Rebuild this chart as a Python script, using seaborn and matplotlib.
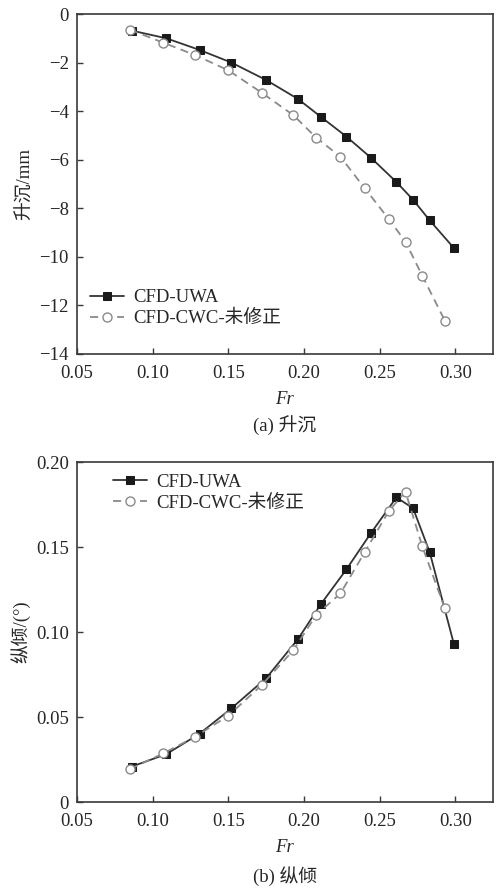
import matplotlib
matplotlib.use("Agg")
import matplotlib.pyplot as plt
import seaborn as sns
import pandas as pd
from matplotlib.ticker import FixedLocator, FuncFormatter

# Froude numbers of the computed cases
fr_uwa = [0.086, 0.109, 0.131, 0.152, 0.175, 0.196, 0.211, 0.228, 0.244, 0.261, 0.272, 0.283, 0.299]
fr_cwc = [0.085, 0.107, 0.128, 0.150, 0.172, 0.193, 0.208, 0.224, 0.240, 0.256, 0.267, 0.278, 0.293]

# Sinkage (mm)
sink_uwa = [-0.68, -1.00, -1.48, -2.00, -2.72, -3.50, -4.23, -5.05, -5.91, -6.92, -7.65, -8.50, -9.64]
sink_cwc = [-0.65, -1.18, -1.69, -2.32, -3.24, -4.17, -5.09, -5.88, -7.17, -8.45, -9.38, -10.77, -12.63]

# Trim (deg)
trim_uwa = [0.0208, 0.0282, 0.0402, 0.0551, 0.0729, 0.0959, 0.1163, 0.1369, 0.1580, 0.1792, 0.1728, 0.1469, 0.0928]
trim_cwc = [0.0194, 0.0286, 0.0384, 0.0508, 0.0688, 0.0894, 0.1100, 0.1227, 0.1469, 0.1712, 0.1825, 0.1506, 0.1139]

labels = ["CFD-UWA", "CFD-CWC-未修正"]
x_ticks = [0.05, 0.10, 0.15, 0.20, 0.25, 0.30]
sink_ticks = [0, -2, -4, -6, -8, -10, -12, -14]
trim_ticks = [0, 0.05, 0.10, 0.15, 0.20]

sns.set_style("ticks")
plt.rcParams["font.family"] = ["Liberation Serif", "Noto Sans CJK SC"]
plt.rcParams["axes.unicode_minus"] = True

FS = 13.5
SPINE = "#3a3a3a"

fig = plt.figure(figsize=(5.04, 8.88), dpi=100)
ax1 = fig.add_axes([0.1528, 0.6014, 0.8248, 0.3828])
ax2 = fig.add_axes([0.1528, 0.0968, 0.8248, 0.3829])

uwa_style = dict(color="#333333", linewidth=1.3, linestyle="-", marker="s",
                 markersize=5.5, markerfacecolor="#1a1a1a", markeredgecolor="#1a1a1a")
cwc_style = dict(color="#8a8a8a", linewidth=1.3, linestyle=(0, (4.5, 3.0)), marker="o",
                 markersize=6.5, markerfacecolor="white", markeredgecolor="#8a8a8a",
                 markeredgewidth=1.0)


def draw(ax, y_uwa, y_cwc):
    d1 = pd.DataFrame({"Fr": fr_uwa, "v": y_uwa})
    d2 = pd.DataFrame({"Fr": fr_cwc, "v": y_cwc})
    sns.lineplot(data=d1, x="Fr", y="v", ax=ax, sort=False, label=labels[0], **uwa_style)
    sns.lineplot(data=d2, x="Fr", y="v", ax=ax, sort=False, label=labels[1], **cwc_style)
    ax.set_xlim(0.05, 0.3246)
    ax.xaxis.set_major_locator(FixedLocator(x_ticks))
    ax.xaxis.set_major_formatter(FuncFormatter(lambda v, p: f"{v:.2f}"))
    for s in ax.spines.values():
        s.set_visible(True)
        s.set_color(SPINE)
        s.set_linewidth(1.2)
    ax.tick_params(direction="in", length=4, width=1.0, color=SPINE,
                   labelsize=FS, pad=6, top=False, right=False)
    ax.tick_params(axis="x", pad=8)
    ax.set_xlabel("Fr", fontsize=FS, fontstyle="italic", labelpad=6.5)


legend_kw = dict(frameon=False, fontsize=FS, handlelength=1.8, handletextpad=0.5,
                 labelspacing=0.2, borderaxespad=0.3)

draw(ax1, sink_uwa, sink_cwc)
ax1.set_ylim(-14, 0)
ax1.yaxis.set_major_locator(FixedLocator(sink_ticks))
ax1.yaxis.set_major_formatter(FuncFormatter(lambda v, p: f"{v:.0f}".replace("-", "\u2212")))
ax1.set_ylabel("升沉/mm", fontsize=FS, labelpad=4)
ax1.legend(loc="lower left", bbox_to_anchor=(0.0, 0.04), **legend_kw)

draw(ax2, trim_uwa, trim_cwc)
ax2.set_ylim(0, 0.20)
ax2.yaxis.set_major_locator(FixedLocator(trim_ticks))
ax2.yaxis.set_major_formatter(FuncFormatter(lambda v, p: "0" if v == 0 else f"{v:.2f}"))
ax2.set_ylabel("纵倾/(°)", fontsize=FS, labelpad=4)
ax2.legend(loc="upper left", bbox_to_anchor=(0.055, 1.005), **legend_kw)

fig.text(0.5654, 1 - 425 / 888, "(a) 升沉", ha="center", va="center", fontsize=FS)
fig.text(0.5654, 1 - 876 / 888, "(b) 纵倾", ha="center", va="center", fontsize=FS)

fig.savefig("out.png", dpi=100, facecolor="white")
